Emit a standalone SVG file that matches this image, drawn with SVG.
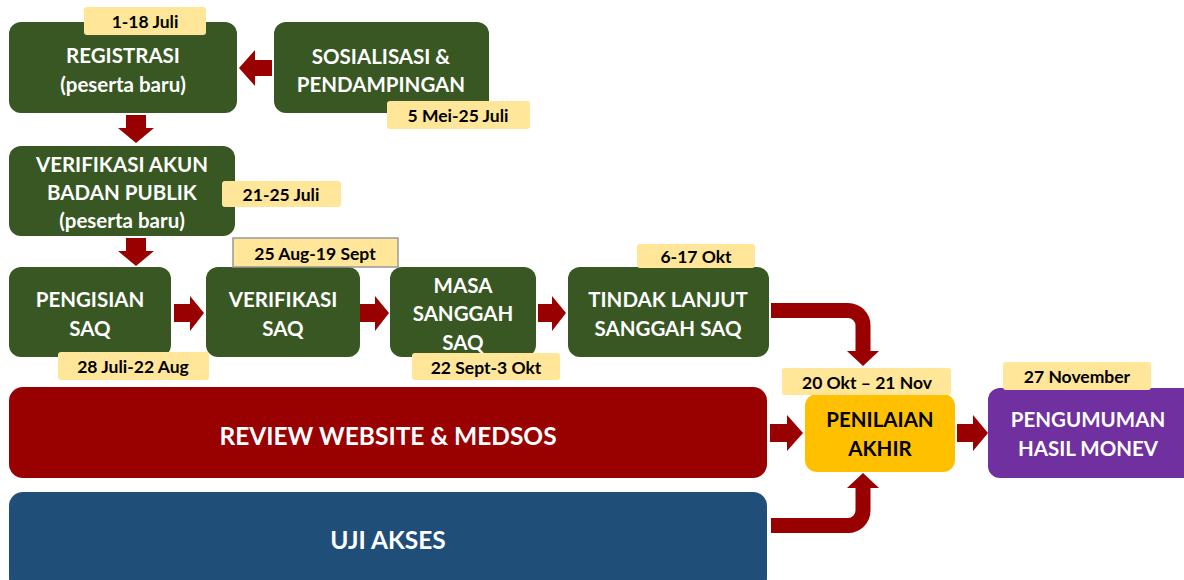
<svg xmlns="http://www.w3.org/2000/svg" width="1184" height="580" viewBox="0 0 1184 580">
<style>
.g{fill:#385723}
.lb{fill:#FFE699}
.t{font-family:Lato,"Liberation Sans",sans-serif;font-weight:bold;font-size:20.5px;fill:#fff;text-anchor:middle;dominant-baseline:central}
.tb{fill:#000}
.big{font-size:24.5px}
.l{font-family:Lato,"Liberation Sans",sans-serif;font-weight:bold;font-size:17.5px;fill:#000;text-anchor:middle;dominant-baseline:central}
.ar{fill:#990000}
.cv{fill:none;stroke:#990000;stroke-width:15}
</style>
<rect width="1184" height="580" fill="#fff"/>
<g id="connectors">
<polygon class="ar" points="272,60 255,60 255,50 239,68 255,86 255,76 272,76"/>
<polygon class="ar" points="126,115 146,115 146,128 154,128 136,143 118,128 126,128"/>
<polygon class="ar" points="126,238 146,238 146,251 154,251 136,266 118,251 126,251"/>
<polygon class="ar" points="174,304 190,304 190,296 204,313 190,331 190,322 174,322"/>
<polygon class="ar" points="360,304 375,304 375,296 389,313 375,331 375,322 360,322"/>
<polygon class="ar" points="538,304 552,304 552,296 566,313 552,331 552,322 538,322"/>
<polygon class="ar" points="770,424 787,424 787,415 803,433 787,451 787,442 770,442"/>
<polygon class="ar" points="957,424 973,424 973,415 988,433 973,451 973,442 957,442"/>
<path class="cv" d="M771,310.5 H848 A15,15 0 0 1 863,325.5 V352"/>
<polygon class="ar" points="847,351 879,351 863,366"/>
<path class="cv" d="M771,525.5 H848 A15,15 0 0 0 863,510.5 V486"/>
<polygon class="ar" points="847,488 879,488 863,473"/>
</g>
<g id="registrasi">
<rect class="g" x="9" y="22" width="228" height="91" rx="12"/>
<text class="t" x="123" y="55">REGISTRASI</text>
<text class="t" x="123" y="84">(peserta baru)</text>
<rect class="lb" x="84" y="7" width="122" height="28" rx="3"/>
<text class="l" x="145" y="21">1-18 Juli</text>
</g>
<g id="sosialisasi">
<rect class="g" x="274" y="22" width="215" height="91" rx="12"/>
<text class="t" x="381" y="56">SOSIALISASI &amp;</text>
<text class="t" x="381" y="84">PENDAMPINGAN</text>
<rect class="lb" x="387" y="101" width="143" height="28" rx="3"/>
<text class="l" x="458" y="115">5 Mei-25 Juli</text>
</g>
<g id="verifikasi-akun">
<rect class="g" x="9" y="146" width="226" height="90" rx="12"/>
<text class="t" x="122" y="164">VERIFIKASI AKUN</text>
<text class="t" x="122" y="192">BADAN PUBLIK</text>
<text class="t" x="122" y="220">(peserta baru)</text>
<rect class="lb" x="222" y="181" width="119" height="26" rx="3"/>
<text class="l" x="281" y="194">21-25 Juli</text>
</g>
<g id="pengisian">
<rect class="g" x="9" y="267" width="162" height="90" rx="12"/>
<text class="t" x="90" y="299">PENGISIAN</text>
<text class="t" x="90" y="328">SAQ</text>
<rect class="lb" x="58" y="352" width="151" height="28" rx="3"/>
<text class="l" x="133" y="366">28 Juli-22 Aug</text>
</g>
<g id="verifikasi-saq">
<rect class="g" x="206" y="267" width="154" height="90" rx="12"/>
<text class="t" x="283" y="299">VERIFIKASI</text>
<text class="t" x="283" y="328">SAQ</text>
<rect class="lb" x="233" y="238" width="165" height="29" stroke="#999" stroke-width="1.5"/>
<text class="l" x="315" y="253">25 Aug-19 Sept</text>
</g>
<g id="masa-sanggah">
<rect class="g" x="390" y="267" width="146" height="90" rx="12"/>
<text class="t" x="463" y="285">MASA</text>
<text class="t" x="463" y="313">SANGGAH</text>
<text class="t" x="463" y="342">SAQ</text>
<rect class="lb" x="412" y="353" width="148" height="27" rx="3"/>
<text class="l" x="486" y="367">22 Sept-3 Okt</text>
</g>
<g id="tindak-lanjut">
<rect class="g" x="568" y="267" width="201" height="90" rx="12"/>
<text class="t" x="668" y="299">TINDAK LANJUT</text>
<text class="t" x="668" y="328">SANGGAH SAQ</text>
<rect class="lb" x="637" y="244" width="118" height="24" rx="3"/>
<text class="l" x="696" y="256">6-17 Okt</text>
</g>
<g id="review">
<rect x="9" y="387" width="758" height="91" rx="14" fill="#990000"/>
<text class="t big" x="388" y="435">REVIEW WEBSITE &amp; MEDSOS</text>
</g>
<g id="uji-akses">
<rect x="9" y="492" width="758" height="100" rx="14" fill="#1F4E79"/>
<text class="t big" x="388" y="539">UJI AKSES</text>
</g>
<g id="penilaian">
<rect x="805" y="394" width="150" height="78" rx="12" fill="#FFC000"/>
<text class="t tb" x="880" y="419">PENILAIAN</text>
<text class="t tb" x="880" y="448">AKHIR</text>
<rect class="lb" x="782" y="368" width="169" height="27" rx="3"/>
<text class="l" x="867" y="382">20 Okt – 21 Nov</text>
</g>
<g id="pengumuman">
<rect x="988" y="388" width="210" height="90" rx="12" fill="#7030A0"/>
<text class="t" x="1088" y="419">PENGUMUMAN</text>
<text class="t" x="1088" y="448">HASIL MONEV</text>
<rect class="lb" x="1003" y="362" width="148" height="28" rx="3"/>
<text class="l" x="1077" y="376">27 November</text>
</g>
</svg>
